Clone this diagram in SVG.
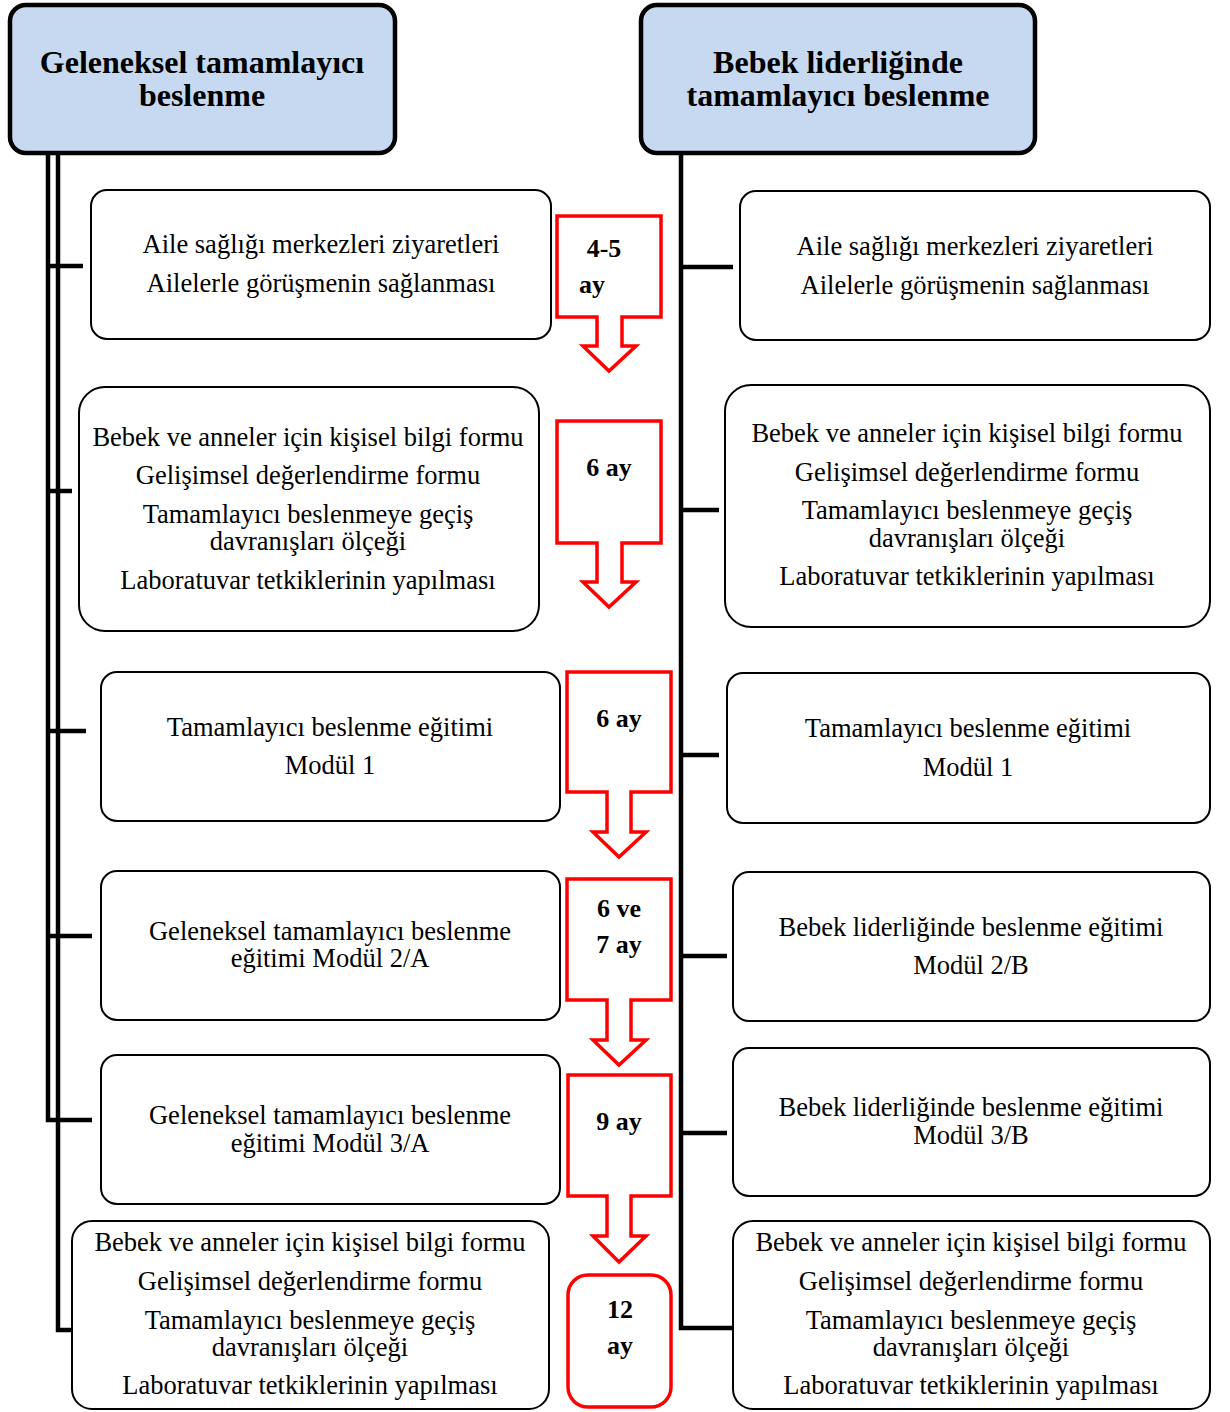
<svg xmlns="http://www.w3.org/2000/svg" width="1230" height="1412" viewBox="0 0 1230 1412">
  <style>
    .hdr { fill: #c6d9f1; stroke: #000; stroke-width: 4.5; }
    .box { fill: #fff; stroke: #000; stroke-width: 2; }
    .red { fill: #fff; stroke: #ff0000; stroke-width: 3.5; stroke-linejoin: miter; }
    .ln { fill: none; stroke: #000; stroke-width: 4.5; }
    .ht { font-weight: bold; font-size: 32px; text-anchor: middle; fill: #000; }
    .bt { font-size: 26.5px; text-anchor: middle; fill: #000; }
    .rt { font-weight: bold; font-size: 26px; text-anchor: middle; fill: #000; }
  </style>

  <!-- connectors: timeline spines and branch ticks -->
  <g id="connectors">
    <path class="ln" d="M48,153 V1120 H92"/>
    <path class="ln" d="M58,153 V1330 H72"/>
    <path class="ln" d="M48,266 H83"/>
    <path class="ln" d="M48,491 H72"/>
    <path class="ln" d="M48,731 H86"/>
    <path class="ln" d="M48,936 H92"/>
    <path class="ln" d="M681,153 V1328 H733"/>
    <path class="ln" d="M681,267 H733"/>
    <path class="ln" d="M681,510 H719"/>
    <path class="ln" d="M681,755 H719"/>
    <path class="ln" d="M681,956 H727"/>
    <path class="ln" d="M681,1133 H727"/>
  </g>

  <g font-family="'Liberation Serif', 'Times New Roman', serif">
  <!-- headers -->
  <g id="hdr-left">
    <rect class="hdr" x="10" y="5" width="385" height="148" rx="16"/>
    <text class="ht" x="202" y="73">Geleneksel tamamlayıcı</text>
    <text class="ht" x="202" y="106">beslenme</text>
  </g>
  <g id="hdr-right">
    <rect class="hdr" x="641" y="5" width="394" height="148" rx="16"/>
    <text class="ht" x="838" y="73">Bebek liderliğinde</text>
    <text class="ht" x="838" y="106">tamamlayıcı beslenme</text>
  </g>

  <!-- left column -->
  <g id="left-1">
    <rect class="box" x="91" y="190" width="460" height="149" rx="16"/>
    <text class="bt" x="321" y="253">Aile sağlığı merkezleri ziyaretleri</text>
    <text class="bt" x="321" y="292">Ailelerle görüşmenin sağlanması</text>
  </g>
  <g id="left-2">
    <rect class="box" x="79" y="387" width="460" height="244" rx="26"/>
    <text class="bt" x="308" y="446">Bebek ve anneler için kişisel bilgi formu</text>
    <text class="bt" x="308" y="484">Gelişimsel değerlendirme formu</text>
    <text class="bt" x="308" y="523">Tamamlayıcı beslenmeye geçiş</text>
    <text class="bt" x="308" y="550">davranışları ölçeği</text>
    <text class="bt" x="308" y="589">Laboratuvar tetkiklerinin yapılması</text>
  </g>
  <g id="left-3">
    <rect class="box" x="101" y="672" width="459" height="149" rx="16"/>
    <text class="bt" x="330" y="736">Tamamlayıcı beslenme eğitimi</text>
    <text class="bt" x="330" y="774">Modül 1</text>
  </g>
  <g id="left-4">
    <rect class="box" x="101" y="871" width="459" height="149" rx="16"/>
    <text class="bt" x="330" y="940">Geleneksel tamamlayıcı beslenme</text>
    <text class="bt" x="330" y="967">eğitimi Modül 2/A</text>
  </g>
  <g id="left-5">
    <rect class="box" x="101" y="1055" width="459" height="149" rx="16"/>
    <text class="bt" x="330" y="1124">Geleneksel tamamlayıcı beslenme</text>
    <text class="bt" x="330" y="1152">eğitimi Modül 3/A</text>
  </g>
  <g id="left-6">
    <rect class="box" x="72" y="1221" width="477" height="188" rx="20"/>
    <text class="bt" x="310" y="1251">Bebek ve anneler için kişisel bilgi formu</text>
    <text class="bt" x="310" y="1290">Gelişimsel değerlendirme formu</text>
    <text class="bt" x="310" y="1329">Tamamlayıcı beslenmeye geçiş</text>
    <text class="bt" x="310" y="1356">davranışları ölçeği</text>
    <text class="bt" x="310" y="1394">Laboratuvar tetkiklerinin yapılması</text>
  </g>

  <!-- right column -->
  <g id="right-1">
    <rect class="box" x="740" y="191" width="470" height="149" rx="16"/>
    <text class="bt" x="975" y="255">Aile sağlığı merkezleri ziyaretleri</text>
    <text class="bt" x="975" y="294">Ailelerle görüşmenin sağlanması</text>
  </g>
  <g id="right-2">
    <rect class="box" x="725" y="385" width="485" height="242" rx="26"/>
    <text class="bt" x="967" y="442">Bebek ve anneler için kişisel bilgi formu</text>
    <text class="bt" x="967" y="481">Gelişimsel değerlendirme formu</text>
    <text class="bt" x="967" y="519">Tamamlayıcı beslenmeye geçiş</text>
    <text class="bt" x="967" y="547">davranışları ölçeği</text>
    <text class="bt" x="967" y="585">Laboratuvar tetkiklerinin yapılması</text>
  </g>
  <g id="right-3">
    <rect class="box" x="727" y="673" width="483" height="150" rx="16"/>
    <text class="bt" x="968" y="737">Tamamlayıcı beslenme eğitimi</text>
    <text class="bt" x="968" y="776">Modül 1</text>
  </g>
  <g id="right-4">
    <rect class="box" x="733" y="872" width="477" height="149" rx="16"/>
    <text class="bt" x="971" y="936">Bebek liderliğinde beslenme eğitimi</text>
    <text class="bt" x="971" y="974">Modül 2/B</text>
  </g>
  <g id="right-5">
    <rect class="box" x="733" y="1048" width="477" height="148" rx="16"/>
    <text class="bt" x="971" y="1116">Bebek liderliğinde beslenme eğitimi</text>
    <text class="bt" x="971" y="1144">Modül 3/B</text>
  </g>
  <g id="right-6">
    <rect class="box" x="733" y="1221" width="477" height="188" rx="20"/>
    <text class="bt" x="971" y="1251">Bebek ve anneler için kişisel bilgi formu</text>
    <text class="bt" x="971" y="1290">Gelişimsel değerlendirme formu</text>
    <text class="bt" x="971" y="1329">Tamamlayıcı beslenmeye geçiş</text>
    <text class="bt" x="971" y="1356">davranışları ölçeği</text>
    <text class="bt" x="971" y="1394">Laboratuvar tetkiklerinin yapılması</text>
  </g>

  <!-- age callouts (down arrows) -->
  <g id="age-1">
    <path class="red" d="M557,216 H661 V317 H622 V346 H636 L609,371 L583,346 H597 V317 H557 Z"/>
    <text class="rt" x="604" y="257">4-5</text>
    <text class="rt" x="592" y="293">ay</text>
  </g>
  <g id="age-2">
    <path class="red" d="M557,421 H661 V543 H622 V582 H636 L609,607 L583,582 H597 V543 H557 Z"/>
    <text class="rt" x="609" y="476">6 ay</text>
  </g>
  <g id="age-3">
    <path class="red" d="M567,672 H671 V792 H631 V832 H646 L619,857 L593,832 H607 V792 H567 Z"/>
    <text class="rt" x="619" y="727">6 ay</text>
  </g>
  <g id="age-4">
    <path class="red" d="M567,879 H671 V1000 H631 V1040 H646 L619,1065 L593,1040 H607 V1000 H567 Z"/>
    <text class="rt" x="619" y="917">6 ve</text>
    <text class="rt" x="619" y="953">7 ay</text>
  </g>
  <g id="age-5">
    <path class="red" d="M568,1075 H671 V1196 H631 V1236 H646 L619,1262 L593,1236 H607 V1196 H568 Z"/>
    <text class="rt" x="619" y="1130">9 ay</text>
  </g>
  <g id="age-6">
    <rect class="red" x="568" y="1275" width="103" height="132" rx="20"/>
    <text class="rt" x="620" y="1318">12</text>
    <text class="rt" x="620" y="1354">ay</text>
  </g>
  </g>
</svg>
